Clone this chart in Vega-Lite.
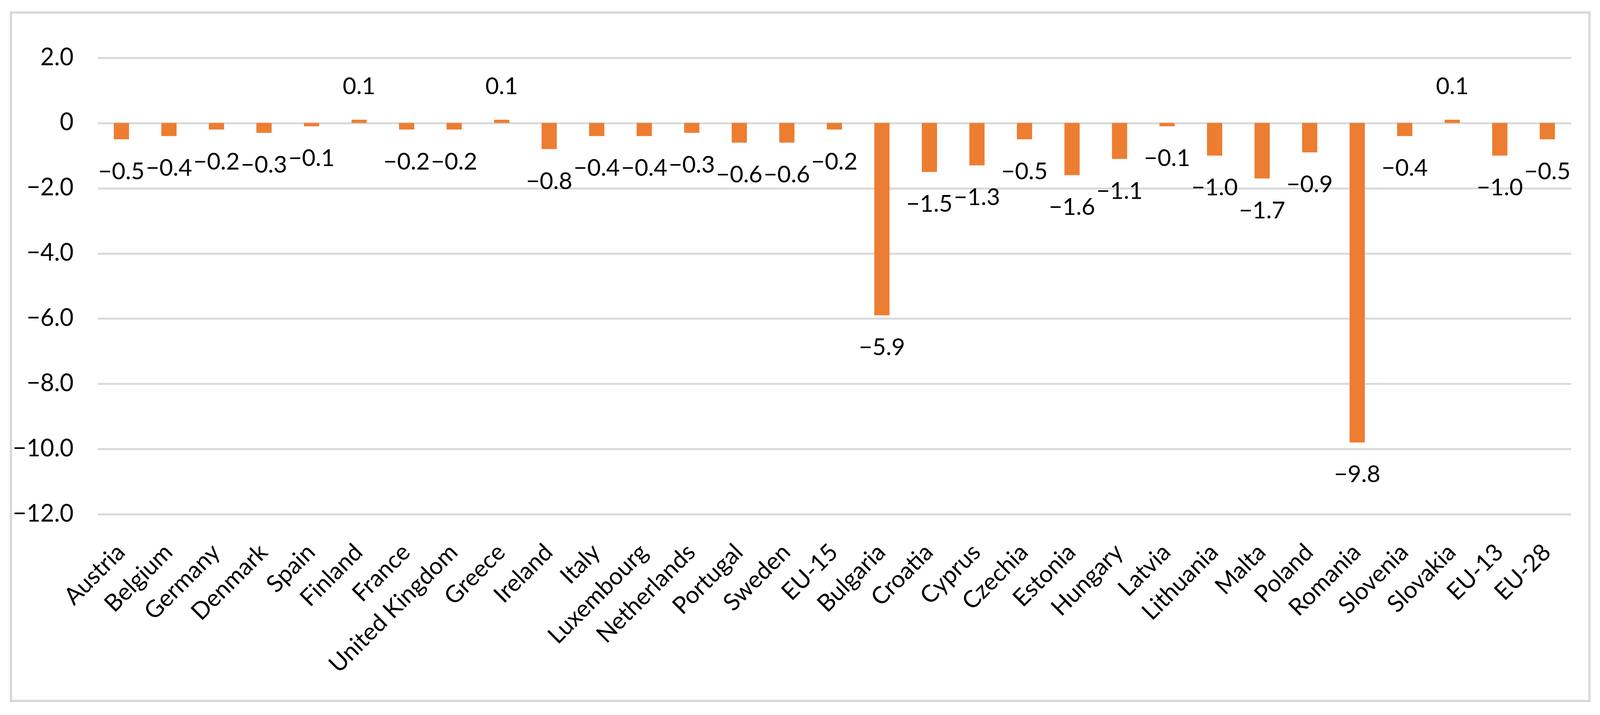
{
  "$schema": "https://vega.github.io/schema/vega-lite/v6.json",
  "width": 4041,
  "height": 1762,
  "autosize": {"type": "none"},
  "padding": {"left": 28, "top": 32, "right": 27, "bottom": 36},
  "background": "white",
  "config": {
    "view": {"stroke": "#d9d9d9", "strokeWidth": 6},
    "font": "Lato"
  },
  "data": {
    "values": [
      {"country": "Austria", "value": -0.5},
      {"country": "Belgium", "value": -0.4},
      {"country": "Germany", "value": -0.2},
      {"country": "Denmark", "value": -0.3},
      {"country": "Spain", "value": -0.1},
      {"country": "Finland", "value": 0.1},
      {"country": "France", "value": -0.2},
      {"country": "United Kingdom", "value": -0.2},
      {"country": "Greece", "value": 0.1},
      {"country": "Ireland", "value": -0.8},
      {"country": "Italy", "value": -0.4},
      {"country": "Luxembourg", "value": -0.4},
      {"country": "Netherlands", "value": -0.3},
      {"country": "Portugal", "value": -0.6},
      {"country": "Sweden", "value": -0.6},
      {"country": "EU-15", "value": -0.2},
      {"country": "Bulgaria", "value": -5.9},
      {"country": "Croatia", "value": -1.5},
      {"country": "Cyprus", "value": -1.3},
      {"country": "Czechia", "value": -0.5},
      {"country": "Estonia", "value": -1.6},
      {"country": "Hungary", "value": -1.1},
      {"country": "Latvia", "value": -0.1},
      {"country": "Lithuania", "value": -1.0},
      {"country": "Malta", "value": -1.7},
      {"country": "Poland", "value": -0.9},
      {"country": "Romania", "value": -9.8},
      {"country": "Slovenia", "value": -0.4},
      {"country": "Slovakia", "value": 0.1},
      {"country": "EU-13", "value": -1.0},
      {"country": "EU-28", "value": -0.5}
    ]
  },
  "encoding": {
    "x": {
      "field": "country",
      "type": "nominal",
      "sort": null,
      "scale": {"range": [222, 3994], "paddingInner": 0.68, "paddingOuter": 0.34},
      "axis": {
        "title": null,
        "domain": false,
        "ticks": false,
        "grid": false,
        "labelAngle": -45,
        "labelAlign": "right",
        "labelBaseline": "middle",
        "labelFontSize": 61,
        "labelFont": "Lato",
        "labelColor": "#000000",
        "labelPadding": 88,
        "labelLimit": 1000,
        "labelOverlap": false,
        "offset": -478
      }
    },
    "y": {
      "field": "value",
      "type": "quantitative",
      "scale": {"domain": [-12, 2], "range": [1284, 116], "nice": false},
      "axis": {
        "title": null,
        "domain": false,
        "ticks": false,
        "values": [2, 0, -2, -4, -6, -8, -10, -12],
        "labelExpr": "datum.value == 0 ? '0' : format(datum.value, '.1f')",
        "labelFontSize": 61,
        "labelFont": "Lato",
        "labelColor": "#000000",
        "labelPadding": 62,
        "gridColor": "#d9d9d9",
        "gridWidth": 5,
        "offset": -222
      }
    }
  },
  "layer": [
    {"mark": {"type": "bar", "color": "#ED7D31"}},
    {
      "transform": [{"filter": "datum.value < 0"}],
      "mark": {"type": "text", "dy": 84, "fontSize": 60, "font": "Lato", "color": "#000000"},
      "encoding": {"text": {"field": "value", "type": "quantitative", "format": ".1f"}}
    },
    {
      "transform": [{"filter": "datum.value >= 0"}],
      "mark": {"type": "text", "dy": -84, "fontSize": 60, "font": "Lato", "color": "#000000"},
      "encoding": {"text": {"field": "value", "type": "quantitative", "format": ".1f"}}
    }
  ]
}
